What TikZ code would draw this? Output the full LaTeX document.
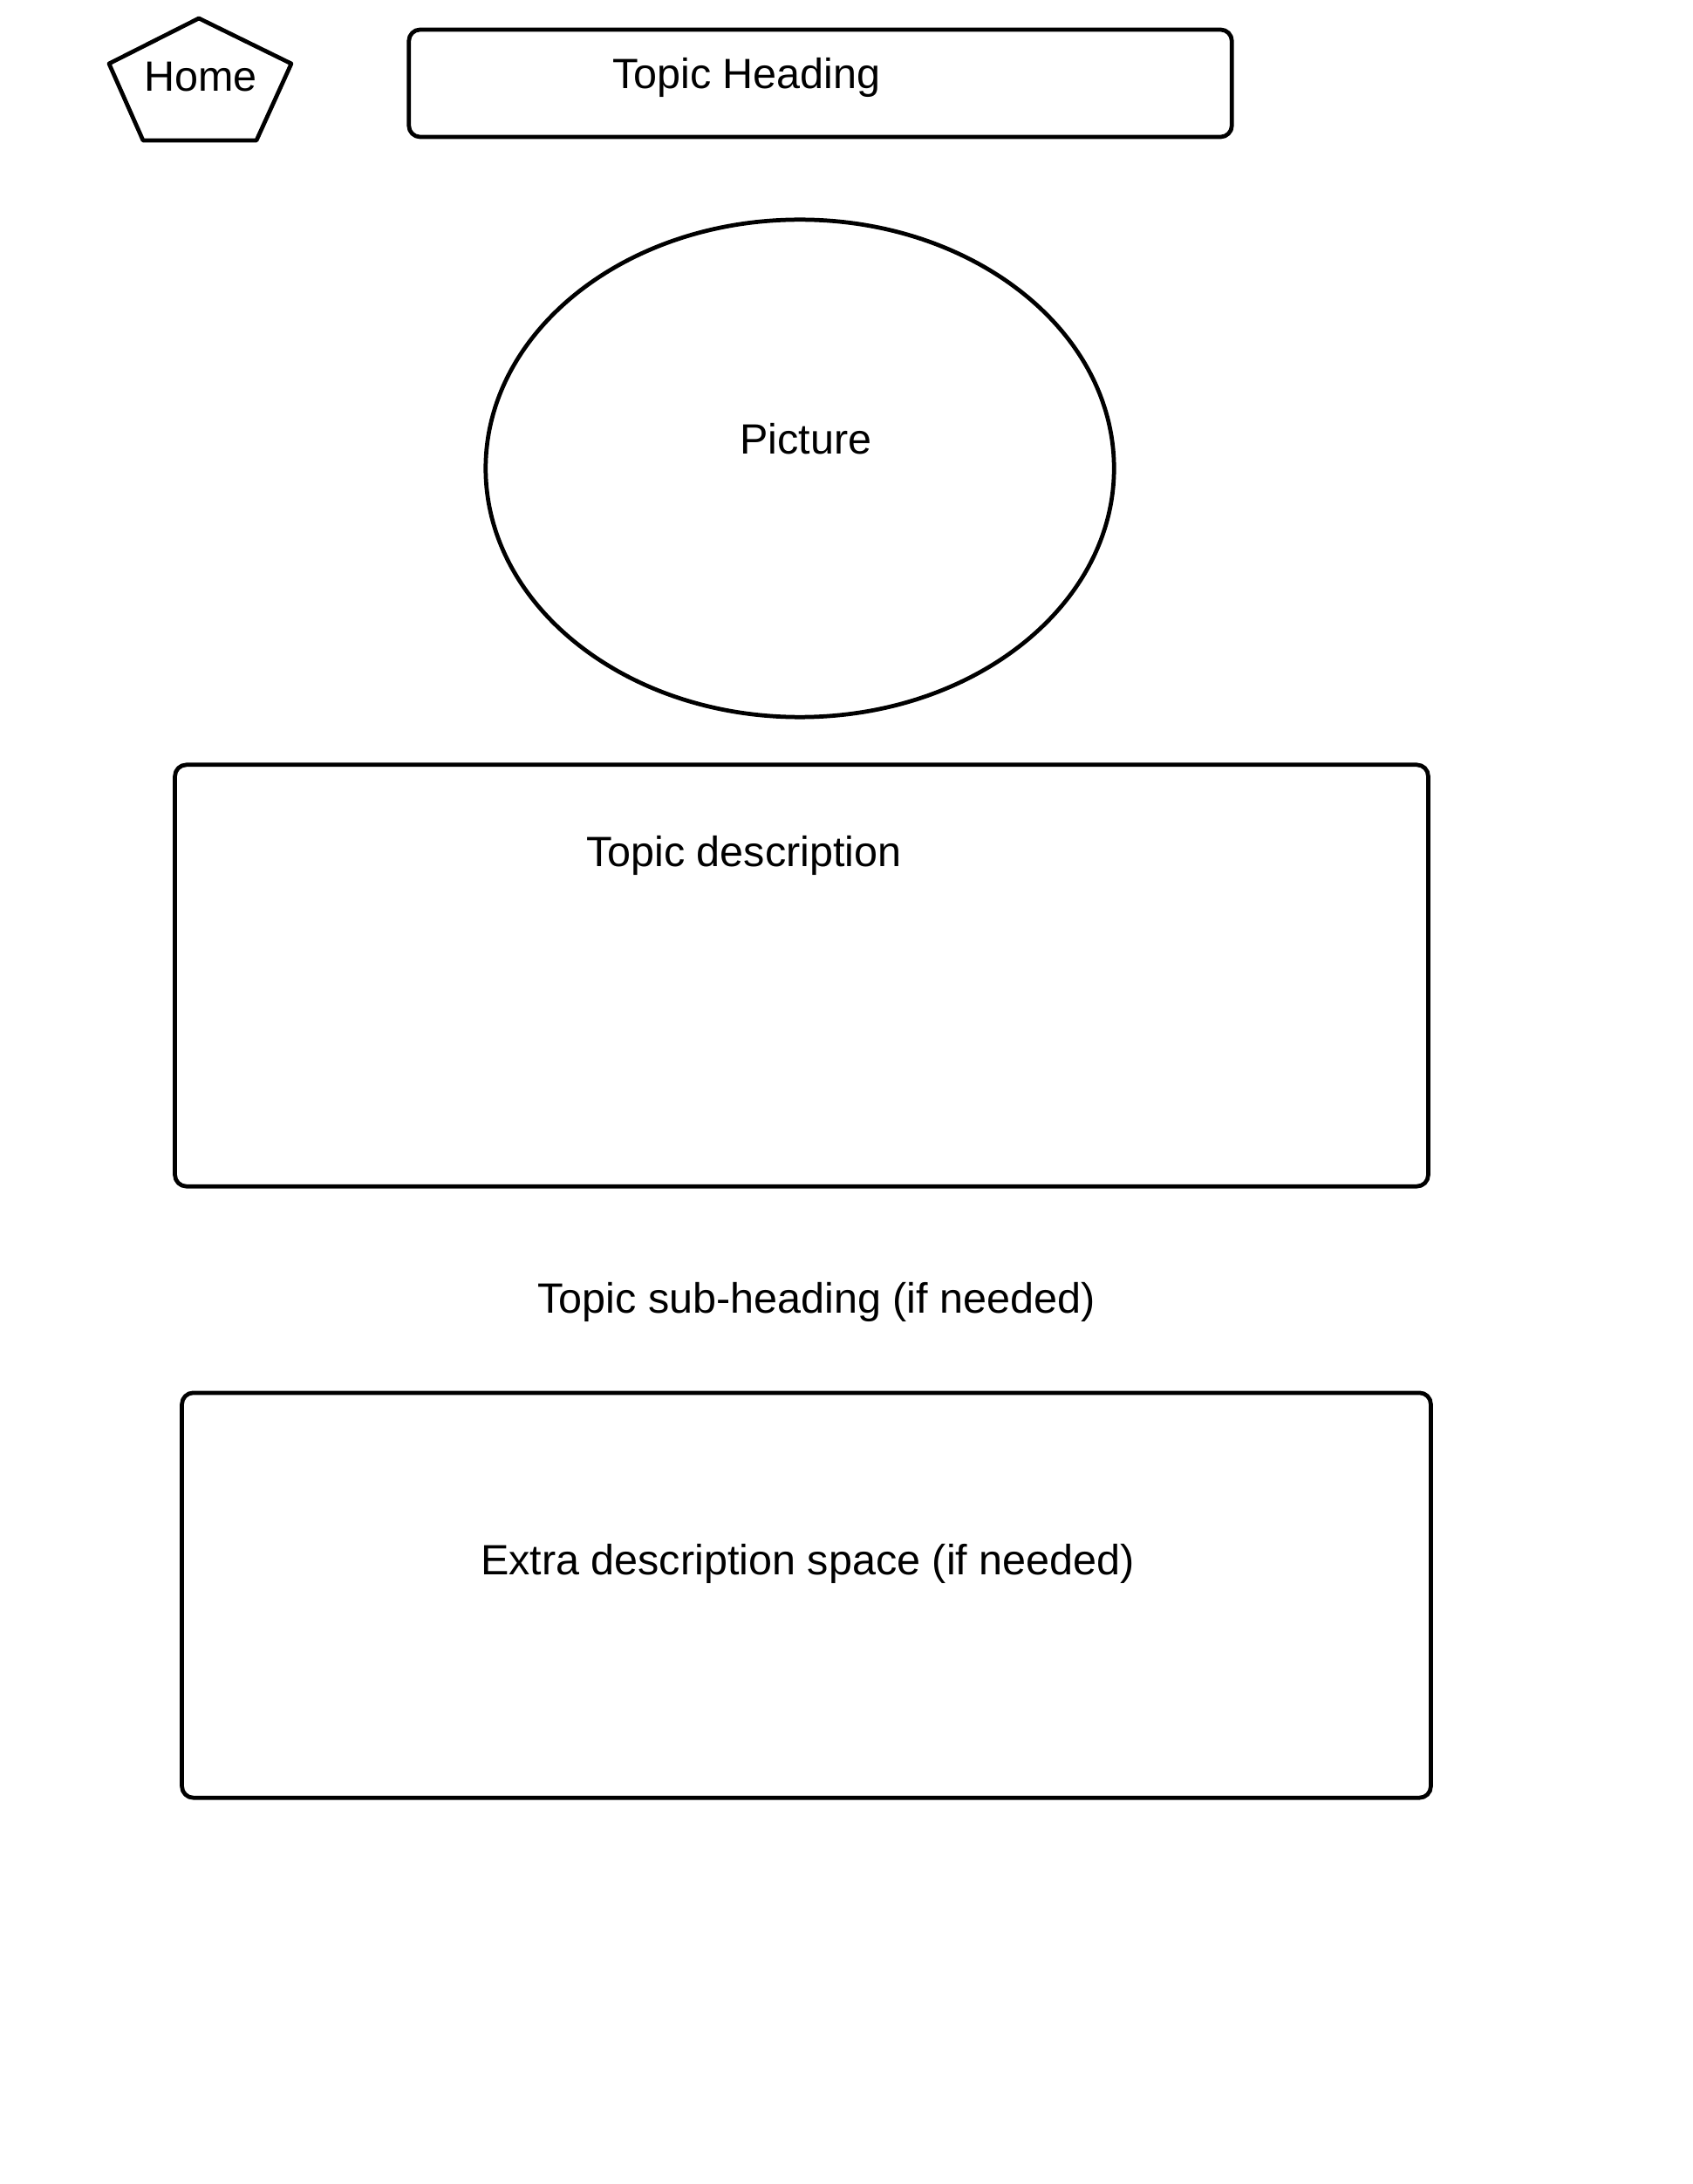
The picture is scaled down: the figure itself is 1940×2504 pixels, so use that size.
\documentclass[tikz,border=0pt]{standalone}
\usepackage{fontspec}
\setmainfont{Liberation Sans}
\usetikzlibrary{shapes.geometric}
\begin{document}
\begin{tikzpicture}[x=0.01cm, y=-0.01cm,
  outline/.style={draw=black, line width=1.35pt, line join=round},
  panel/.style={outline, rectangle, rounded corners=0.13cm, inner sep=0pt, outer sep=0pt},
  label/.style={anchor=base, inner sep=0pt, font=\fontsize{13.8pt}{16pt}\selectfont}]
  \useasboundingbox (0,0) rectangle (1940,2504);

  % home button
  \draw[outline] (228,21) -- (334,73) -- (294,161) -- (164,161) -- (125,73) -- cycle;
  \node[label] (home) at (230,105) {Home};

  % heading bar
  \node[panel, minimum width=9.43cm, minimum height=1.23cm] (headbox) at (940.5,95.5) {};
  \node[label] (heading) at (856,102) {Topic Heading};

  % picture placeholder
  \node[outline, ellipse, inner sep=0pt, outer sep=0pt, minimum width=7.2cm, minimum height=5.7cm] (pic) at (917,537) {};
  \node[label] (pictext) at (924,521) {Picture};

  % description panel
  \node[panel, minimum width=14.36cm, minimum height=4.83cm] (descbox) at (919,1118.5) {};
  \node[label] (desc) at (853,993) {Topic description};

  % sub-heading
  \node[label] (sub) at (936,1505) {Topic sub-heading (if needed)};

  % extra description panel
  \node[panel, minimum width=14.31cm, minimum height=4.64cm] (extrabox) at (924.5,1829) {};
  \node[label] (extra) at (926,1805) {Extra description space (if needed)};
\end{tikzpicture}
\end{document}
